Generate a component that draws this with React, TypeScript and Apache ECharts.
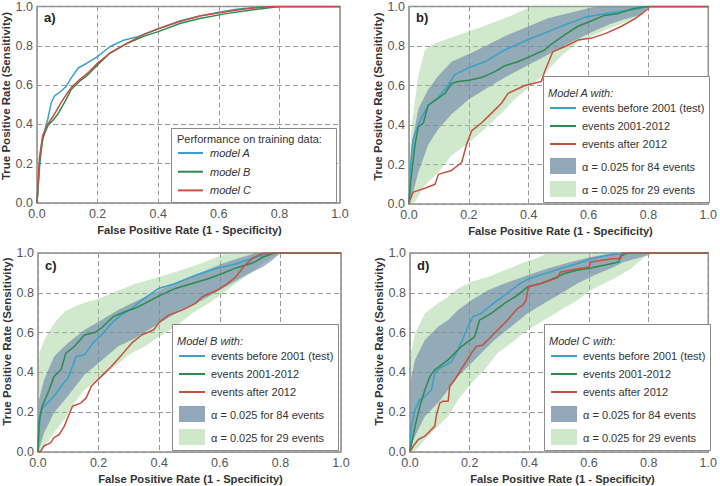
import React, { useEffect, useRef } from "react";
import * as echarts from "echarts";

// ---------- data ----------
const ticks = [0, 0.2, 0.4, 0.6, 0.8, 1.0];
const panelLabels = ["a)", "b)", "c)", "d)"];
const xTitle = "False Positive Rate (1 - Specificity)";
const yTitle = "True Positive Rate (Sensitivity)";
const legendTitleA = "Performance on training data:";
const legendLabelsA = ["model A", "model B", "model C"];
const legendTitlesBCD = ["Model A with:", "Model B with:", "Model C with:"];
const legendLabelsBCD = ["events before 2001 (test)", "events 2001-2012", "events after 2012"];
const bandLabels = ["α = 0.025 for 84 events", "α = 0.025 for 29 events"];

// panel a
const aModelA = [[0,0],[0.006,0.13],[0.013,0.28],[0.024,0.36],[0.036,0.43],[0.047,0.51],[0.058,0.545],[0.08,0.57],[0.097,0.595],[0.113,0.637],[0.136,0.687],[0.163,0.71],[0.2,0.745],[0.24,0.795],[0.286,0.828],[0.341,0.85],[0.4,0.887],[0.474,0.928],[0.54,0.953],[0.597,0.97],[0.652,0.985],[0.73,0.998],[0.78,1],[1,1]];
const aModelB = [[0,0],[0.008,0.195],[0.019,0.33],[0.036,0.395],[0.052,0.42],[0.069,0.453],[0.091,0.512],[0.113,0.578],[0.141,0.62],[0.163,0.645],[0.2,0.703],[0.24,0.762],[0.297,0.812],[0.352,0.848],[0.4,0.872],[0.474,0.915],[0.541,0.94],[0.63,0.965],[0.72,0.985],[0.8,1],[1,1]];
const aModelC = [[0,0],[0.008,0.23],[0.019,0.345],[0.036,0.403],[0.058,0.453],[0.08,0.512],[0.097,0.553],[0.113,0.587],[0.141,0.628],[0.174,0.67],[0.2,0.712],[0.24,0.762],[0.297,0.812],[0.352,0.858],[0.4,0.887],[0.474,0.925],[0.541,0.953],[0.63,0.975],[0.674,0.985],[0.74,0.996],[0.78,1],[1,1]];

// panel b (model A)
const bTest = [[0,0],[0.005,0.2],[0.014,0.33],[0.031,0.40],[0.05,0.46],[0.064,0.50],[0.098,0.54],[0.13,0.60],[0.153,0.655],[0.2,0.69],[0.253,0.72],[0.32,0.78],[0.4,0.834],[0.453,0.865],[0.52,0.906],[0.587,0.945],[0.65,0.962],[0.7,0.975],[0.75,0.985],[0.8,1],[1,1]];
const bMid = [[0,0],[0.006,0.12],[0.02,0.30],[0.031,0.39],[0.048,0.41],[0.064,0.50],[0.092,0.53],[0.12,0.56],[0.142,0.61],[0.164,0.62],[0.2,0.627],[0.242,0.64],[0.287,0.67],[0.32,0.70],[0.364,0.72],[0.409,0.75],[0.453,0.78],[0.476,0.81],[0.52,0.856],[0.564,0.90],[0.598,0.92],[0.653,0.955],[0.7,0.965],[0.75,0.99],[0.8,1],[1,1]];
const bAfter = [[0,0],[0.005,0.03],[0.014,0.06],[0.053,0.08],[0.087,0.10],[0.098,0.15],[0.142,0.17],[0.176,0.21],[0.192,0.30],[0.209,0.37],[0.242,0.41],[0.276,0.46],[0.309,0.51],[0.331,0.56],[0.387,0.60],[0.442,0.62],[0.453,0.67],[0.48,0.77],[0.525,0.80],[0.564,0.83],[0.61,0.84],[0.66,0.865],[0.71,0.90],[0.757,0.94],[0.8,0.99],[0.8,1],[1,1]];
const bGreenUp = [[0,0],[0.003,0.25],[0.009,0.40],[0.031,0.65],[0.053,0.78],[0.07,0.80],[0.098,0.82],[0.2,0.873],[0.32,0.94],[0.364,0.97],[0.41,1],[1,1]];
const bGreenLo = [[0,0],[0.02,0.01],[0.053,0.095],[0.098,0.16],[0.142,0.245],[0.2,0.31],[0.253,0.38],[0.309,0.46],[0.353,0.53],[0.4,0.59],[0.453,0.66],[0.509,0.75],[0.564,0.82],[0.67,0.89],[0.757,0.94],[0.8,1],[1,1]];
const bBlueUp = [[0,0],[0.009,0.30],[0.031,0.48],[0.064,0.58],[0.098,0.65],[0.142,0.72],[0.2,0.76],[0.264,0.806],[0.32,0.85],[0.4,0.90],[0.464,0.94],[0.542,0.97],[0.61,0.995],[0.63,1],[1,1]];
const bBlueLo = [[0,0],[0.009,0.03],[0.031,0.16],[0.064,0.30],[0.098,0.38],[0.142,0.455],[0.2,0.53],[0.264,0.59],[0.32,0.64],[0.4,0.705],[0.464,0.756],[0.542,0.82],[0.61,0.87],[0.67,0.91],[0.72,0.935],[0.78,0.96],[0.8,1],[1,1]];

// panel c (model B)
const cTest = [[0,0],[0.003,0.097],[0.009,0.21],[0.031,0.247],[0.053,0.28],[0.076,0.33],[0.098,0.37],[0.114,0.43],[0.126,0.48],[0.153,0.488],[0.181,0.547],[0.209,0.588],[0.248,0.655],[0.276,0.69],[0.309,0.72],[0.342,0.763],[0.398,0.822],[0.453,0.847],[0.52,0.888],[0.587,0.922],[0.653,0.945],[0.709,0.975],[0.742,0.99],[0.77,1],[1,1]];
const cMid = [[0,0],[0.003,0.147],[0.014,0.23],[0.037,0.313],[0.053,0.38],[0.076,0.413],[0.092,0.497],[0.12,0.53],[0.153,0.588],[0.187,0.6],[0.209,0.622],[0.248,0.68],[0.287,0.705],[0.32,0.722],[0.353,0.747],[0.398,0.783],[0.453,0.822],[0.509,0.847],[0.564,0.872],[0.609,0.897],[0.653,0.925],[0.709,0.95],[0.743,0.98],[0.78,1],[1,1]];
const cAfter = [[0,0],[0.009,0.005],[0.02,0.03],[0.042,0.047],[0.053,0.072],[0.07,0.088],[0.087,0.13],[0.098,0.172],[0.114,0.23],[0.142,0.247],[0.159,0.272],[0.176,0.33],[0.209,0.38],[0.242,0.43],[0.276,0.488],[0.309,0.547],[0.342,0.588],[0.381,0.613],[0.403,0.655],[0.431,0.688],[0.476,0.713],[0.52,0.747],[0.542,0.78],[0.587,0.81],[0.62,0.84],[0.653,0.88],[0.683,0.94],[0.71,0.975],[0.743,1],[1,1]];
const cGreenUp = [[0,0],[0.002,0.35],[0.005,0.5],[0.02,0.56],[0.053,0.647],[0.087,0.705],[0.12,0.73],[0.153,0.75],[0.2,0.77],[0.264,0.81],[0.32,0.845],[0.4,0.88],[0.464,0.91],[0.542,0.95],[0.6,0.985],[0.63,1],[1,1]];
const cGreenLo = [[0,0],[0.02,0.03],[0.053,0.097],[0.087,0.163],[0.12,0.247],[0.153,0.313],[0.2,0.363],[0.253,0.43],[0.309,0.497],[0.353,0.53],[0.4,0.58],[0.453,0.63],[0.509,0.697],[0.564,0.747],[0.609,0.797],[0.653,0.847],[0.698,0.897],[0.742,0.947],[0.8,1],[1,1]];
const cBlueUp = [[0,0],[0.003,0.26],[0.02,0.363],[0.053,0.48],[0.098,0.547],[0.153,0.613],[0.2,0.655],[0.264,0.713],[0.32,0.755],[0.4,0.813],[0.464,0.855],[0.542,0.905],[0.609,0.947],[0.676,0.98],[0.72,1],[1,1]];
const cBlueLo = [[0,0],[0.003,0.01],[0.02,0.097],[0.053,0.197],[0.098,0.28],[0.153,0.388],[0.2,0.447],[0.264,0.53],[0.32,0.572],[0.4,0.647],[0.464,0.705],[0.542,0.763],[0.609,0.822],[0.676,0.88],[0.742,0.93],[0.77,0.96],[0.8,1],[1,1]];

// panel d (model C)
const dTest = [[0,0],[0.003,0.113],[0.017,0.213],[0.033,0.263],[0.05,0.28],[0.072,0.313],[0.083,0.397],[0.1,0.422],[0.122,0.438],[0.139,0.455],[0.156,0.497],[0.178,0.572],[0.194,0.63],[0.211,0.68],[0.239,0.697],[0.272,0.738],[0.317,0.788],[0.361,0.838],[0.394,0.868],[0.45,0.895],[0.506,0.922],[0.561,0.947],[0.606,0.97],[0.65,0.985],[0.694,0.995],[0.72,1],[1,1]];
const dMid = [[0,0],[0.017,0.13],[0.033,0.23],[0.05,0.313],[0.067,0.38],[0.083,0.413],[0.128,0.463],[0.172,0.53],[0.217,0.58],[0.233,0.663],[0.272,0.697],[0.317,0.747],[0.361,0.788],[0.394,0.83],[0.439,0.847],[0.494,0.88],[0.517,0.897],[0.561,0.913],[0.606,0.925],[0.65,0.938],[0.7,0.955],[0.705,0.985],[0.73,1],[1,1]];
const dAfter = [[0,0],[0.011,0.03],[0.028,0.063],[0.05,0.08],[0.067,0.105],[0.083,0.13],[0.089,0.188],[0.1,0.247],[0.111,0.255],[0.128,0.255],[0.133,0.33],[0.15,0.363],[0.178,0.43],[0.206,0.497],[0.222,0.53],[0.244,0.538],[0.272,0.58],[0.317,0.647],[0.361,0.722],[0.378,0.738],[0.389,0.763],[0.397,0.83],[0.439,0.847],[0.494,0.875],[0.505,0.905],[0.561,0.92],[0.6,0.93],[0.606,0.955],[0.672,0.97],[0.706,0.972],[0.711,1],[1,1]];
const dGreenUp = [[0,0],[0.002,0.3],[0.003,0.497],[0.017,0.597],[0.05,0.697],[0.094,0.747],[0.128,0.78],[0.161,0.822],[0.206,0.855],[0.261,0.88],[0.317,0.913],[0.372,0.947],[0.428,0.975],[0.46,1],[1,1]];
const dGreenLo = [[0,0],[0.017,0.005],[0.05,0.063],[0.094,0.13],[0.128,0.18],[0.161,0.263],[0.206,0.347],[0.25,0.413],[0.294,0.497],[0.339,0.547],[0.394,0.613],[0.45,0.663],[0.506,0.713],[0.561,0.763],[0.606,0.813],[0.65,0.847],[0.694,0.88],[0.739,0.92],[0.79,0.985],[0.82,1],[1,1]];
const dBlueUp = [[0,0],[0.003,0.363],[0.017,0.463],[0.05,0.563],[0.094,0.63],[0.128,0.663],[0.161,0.713],[0.206,0.763],[0.261,0.813],[0.317,0.847],[0.394,0.888],[0.461,0.922],[0.539,0.955],[0.606,0.98],[0.672,0.997],[0.68,1],[1,1]];
const dBlueLo = [[0,0],[0.003,0.03],[0.017,0.08],[0.05,0.18],[0.094,0.247],[0.128,0.313],[0.161,0.38],[0.206,0.447],[0.239,0.497],[0.283,0.563],[0.339,0.63],[0.394,0.697],[0.45,0.747],[0.506,0.797],[0.561,0.847],[0.617,0.888],[0.672,0.922],[0.717,0.955],[0.8,0.99],[0.8,1],[1,1]];

// ---------- styling ----------
const FONT = "'Liberation Sans', Arial, Helvetica, sans-serif";
const BLUE = "#3aa0c9";
const GREEN = "#2e8a4f";
const RED = "#c4513f";
const BAND_GREEN = "rgba(150,205,140,0.45)";
const BAND_BLUE = "rgba(95,120,165,0.55)";
const LINE_COLORS = [BLUE, GREEN, RED];
const BAND_COLORS = [BAND_BLUE, BAND_GREEN];

const GRIDS = [
  { left: 37, top: 5, width: 303, height: 198 },
  { left: 409, top: 5, width: 301, height: 199 },
  { left: 38, top: 253, width: 303, height: 199 },
  { left: 410, top: 253, width: 303, height: 199 },
];

function curve(gi: number, data: number[][], color: string, name: string) {
  return {
    type: "line", name, xAxisIndex: gi, yAxisIndex: gi, data,
    showSymbol: false, symbol: "none", z: 4,
    lineStyle: { color, width: 1.5 },
  };
}

function band(gi: number, up: number[][], lo: number[][], color: string) {
  return {
    type: "custom", xAxisIndex: gi, yAxisIndex: gi, data: [[0, 0]], silent: true, z: 2,
    renderItem: (params: any, api: any) => {
      const pts = up.map((p) => api.coord(p)).concat(lo.slice().reverse().map((p) => api.coord(p)));
      return { type: "polygon", shape: { points: pts }, style: { fill: color } };
    },
  };
}

function txt(x: number, y: number, text: string, extra: any = {}) {
  return {
    type: "text", x, y, z: 20,
    style: { text, fill: "#333", fontSize: 11, fontFamily: FONT, align: "left", verticalAlign: "middle", ...extra },
  };
}

function legendA(g: any) {
  const bx = g.left + 134, by = g.top + 123;
  const els: any[] = [
    { type: "rect", z: 19, shape: { x: bx + 0.5, y: by + 0.5, width: 165, height: 74 }, style: { fill: "#fff", stroke: "#8a8a8a", lineWidth: 1 } },
    txt(bx + 6, by + 11, legendTitleA),
  ];
  legendLabelsA.forEach((lab, i) => {
    const yy = by + 25 + i * 18.7;
    els.push({ type: "line", z: 20, shape: { x1: bx + 7, y1: yy, x2: bx + 32, y2: yy }, style: { stroke: LINE_COLORS[i], lineWidth: 2 } });
    els.push(txt(bx + 39, yy, lab, { fontStyle: "italic" }));
  });
  return els;
}

function legendBCD(g: any, title: string) {
  const bx = g.left + 134, by = g.top + 71;
  const els: any[] = [
    { type: "rect", z: 19, shape: { x: bx + 0.5, y: by + 0.5, width: 166, height: 126 }, style: { fill: "#fff", stroke: "#8a8a8a", lineWidth: 1 } },
    txt(bx + 5, by + 17, title, { fontStyle: "italic" }),
  ];
  const rows = [32, 50, 68];
  legendLabelsBCD.forEach((lab, i) => {
    const yy = by + rows[i];
    els.push({ type: "line", z: 20, shape: { x1: bx + 7, y1: yy, x2: bx + 33, y2: yy }, style: { stroke: LINE_COLORS[i], lineWidth: 2 } });
    els.push(txt(bx + 39, yy, lab));
  });
  const sw = [82, 105];
  bandLabels.forEach((lab, i) => {
    els.push({ type: "rect", z: 20, shape: { x: bx + 7, y: by + sw[i], width: 26, height: 16 }, style: { fill: i === 0 ? "#92a8ba" : "#cfe8c9" } });
    els.push(txt(bx + 39, by + sw[i] + 9, lab));
  });
  return els;
}

export default function App() {
  const ref = useRef<HTMLDivElement>(null);
  useEffect(() => {
    document.body.style.margin = "0";
    if (!ref.current) return;
    const chart = echarts.init(ref.current, null, { renderer: "svg" });

    const axisCommon = (i: number) => ({
      type: "value", gridIndex: i, min: 0, max: 1, interval: 0.2,
      axisLine: { show: false }, axisTick: { show: false },
      axisLabel: { formatter: (v: number) => v.toFixed(1), fontSize: 12.5, color: "#555", margin: 4, fontFamily: FONT },
      splitLine: { show: true, lineStyle: { color: "#999", width: 1, type: [5, 3] } },
    });
    const xAxes = GRIDS.map((_, i) => axisCommon(i));
    const yAxes = GRIDS.map((_, i) => axisCommon(i));

    const series: any[] = [
      curve(0, aModelA, BLUE, legendLabelsA[0]),
      curve(0, aModelB, GREEN, legendLabelsA[1]),
      curve(0, aModelC, RED, legendLabelsA[2]),
    ];
    const bands = [
      [bGreenUp, bGreenLo, bBlueUp, bBlueLo],
      [cGreenUp, cGreenLo, cBlueUp, cBlueLo],
      [dGreenUp, dGreenLo, dBlueUp, dBlueLo],
    ];
    const lines = [
      [bTest, bMid, bAfter],
      [cTest, cMid, cAfter],
      [dTest, dMid, dAfter],
    ];
    bands.forEach((b, k) => {
      const gi = k + 1;
      series.push(band(gi, b[0], b[1], BAND_COLORS[1]));
      series.push(band(gi, b[2], b[3], BAND_COLORS[0]));
      lines[k].forEach((d, j) => series.push(curve(gi, d, LINE_COLORS[j], legendLabelsBCD[j])));
    });

    const graphics: any[] = [];
    const yTitleOffsets = [8, 8, 11, 11];
    GRIDS.forEach((g, i) => {
      graphics.push(txt(g.left + 7, g.top + 12, panelLabels[i], { fontSize: 13, fontWeight: "bold", fill: "#222" }));
      graphics.push(txt(g.left + g.width / 2 + 1, g.top + g.height + 27, xTitle, { fontSize: 11.2, fontWeight: "bold", align: "center" }));
      graphics.push({
        type: "text", x: g.left - 31, y: g.top + g.height / 2 - yTitleOffsets[i], rotation: Math.PI / 2, z: 20,
        style: { text: yTitle, fill: "#333", fontSize: 11.5, fontWeight: "bold", fontFamily: FONT, align: "center", verticalAlign: "middle" },
      });
    });
    graphics.push(...legendA(GRIDS[0]));
    graphics.push(...legendBCD(GRIDS[1], legendTitlesBCD[0]));
    graphics.push(...legendBCD(GRIDS[2], legendTitlesBCD[1]));
    graphics.push(...legendBCD(GRIDS[3], legendTitlesBCD[2]));

    chart.setOption({
      animation: false,
      backgroundColor: "#fff",
      textStyle: { fontFamily: FONT },
      grid: GRIDS.map((g) => ({ ...g, show: true, borderColor: "#8a8a8a", borderWidth: 1.5, backgroundColor: "#fff" })),
      xAxis: xAxes,
      yAxis: yAxes,
      series,
      graphic: graphics,
    });
    return () => chart.dispose();
  }, []);
  return <div ref={ref} style={{ width: 720, height: 486 }} />;
}
